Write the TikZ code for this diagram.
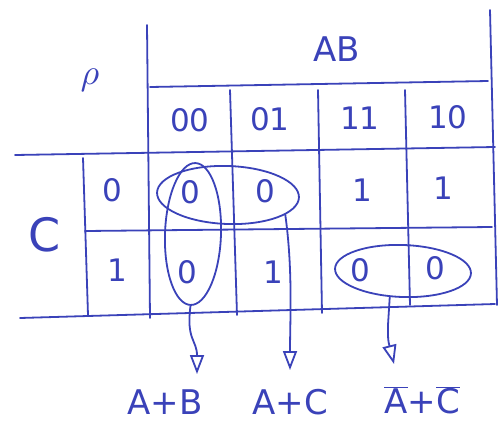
\documentclass[tikz,border=0pt]{standalone}
\usepackage{fontspec}
\setsansfont{DejaVu Sans}
\usetikzlibrary{arrows.meta,shapes.geometric}
\definecolor{pen}{RGB}{58,66,185}
\begin{document}
\begin{tikzpicture}[x=1pt,y=-1pt,
  pen/.style={draw=pen,line width=1.8pt,line cap=round},
  txt/.style={text=pen,font=\sffamily\fontsize{31}{31}\selectfont,inner sep=0pt},
  big/.style={text=pen,font=\sffamily\fontsize{34}{34}\selectfont,inner sep=0pt},
  loop/.style={draw=pen,line width=1.8pt,ellipse,inner sep=0pt},
  arr/.style={pen,-{Triangle[open,length=19pt,width=14pt,line width=1.8pt]}}]
\fill[white] (0,0) rectangle (504,424);
\useasboundingbox (0,0) rectangle (504,424);
% grid
\draw[pen] (147,25) -- (150,318);
\draw[pen] (490,10) -- (497,305);
\draw[pen] (150,87) -- (488,81);
\draw[pen] (230,90) -- (237,315);
\draw[pen] (318,90) -- (322,313);
\draw[pen] (405,90) -- (410,305);
\draw[pen] (15,155) -- (495,147);
\draw[pen] (83,158) -- (88,315);
\draw[pen] (85,231) -- (492,227);
\draw[pen] (20,318) -- (495,304);
% labels
\node[big] (ab) at (337,49) {AB};
\node[text=pen,inner sep=0pt,scale=3.6] (f) at (90,80) {$\rho$};
\node[big,font=\sffamily\fontsize{46}{46}\selectfont] (c) at (45,235) {C};
\node[txt] (h00) at (190,120) {00};
\node[txt] (h01) at (270,119) {01};
\node[txt] (h11) at (360,118) {11};
\node[txt] (h10) at (448,117) {10};
\node[txt] (r0) at (112,190) {0};
\node[txt] (r1) at (117,270) {1};
\node[txt] (c00) at (190,192) {0};
\node[txt] (c01) at (265,191) {0};
\node[txt] (c11) at (362,190) {1};
\node[txt] (c10) at (443,188) {1};
\node[txt] (d00) at (187,272) {0};
\node[txt] (d01) at (273,272) {1};
\node[txt] (d11) at (360,270) {0};
\node[txt] (d10) at (435,268) {0};
% loops
\node[loop,minimum width=56pt,minimum height=142pt,rotate=-2] (vb) at (193,234) {};
\node[loop,minimum width=142pt,minimum height=58pt,rotate=-2] (hr) at (228,195) {};
\node[loop,minimum width=136pt,minimum height=52pt,rotate=-2] (hl) at (403,271) {};
% results
\node[big] (e1) at (165,402) {A+B};
\node[big] (e2) at (290,402) {A+C};
\node[big] (e3) at (422,400) {$\overline{\mbox{A}}$+$\overline{\mbox{C}}$};
\coordinate (t1) at (197,374);
\coordinate (t2) at (290,370);
\coordinate (t3) at (394,364);
\draw[arr] (vb.south) .. controls (186,340) and (197,340) .. (t1);
\draw[arr] (hr.-17) .. controls (293,270) and (290,320) .. (t2);
\draw[arr] (hl.-115) -- (388,325) .. controls (388,340) .. (t3);
\end{tikzpicture}
\end{document}
